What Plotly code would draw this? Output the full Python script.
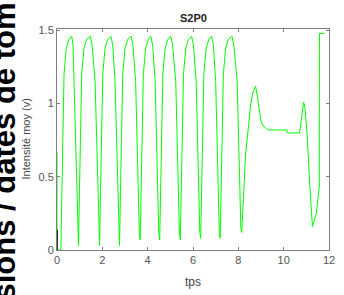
import plotly.graph_objects as go

# Green signal: time (tps) and mean intensity (v)
tps = [0.0, 0.0, 0.17,
       0.21, 0.25, 0.31, 0.41, 0.53, 0.65, 0.71, 0.75, 0.81, 0.87, 0.91, 0.95,
       0.99, 1.03, 1.09, 1.19, 1.31, 1.47, 1.55, 1.68, 1.74, 1.80, 1.84, 1.88,
       1.92, 1.96, 2.02, 2.12, 2.24, 2.38, 2.46, 2.56, 2.62, 2.68, 2.72, 2.76,
       2.80, 2.84, 2.90, 3.00, 3.12, 3.27, 3.35, 3.47, 3.53, 3.59, 3.63, 3.67,
       3.71, 3.75, 3.81, 3.91, 4.03, 4.14, 4.22, 4.33, 4.39, 4.45, 4.49, 4.53,
       4.57, 4.61, 4.67, 4.77, 4.89, 5.02, 5.10, 5.24, 5.30, 5.36, 5.40, 5.44,
       5.48, 5.52, 5.58, 5.68, 5.80, 5.94, 6.02, 6.14, 6.20, 6.26, 6.30, 6.34,
       6.38, 6.42, 6.48, 6.58, 6.70, 6.82, 6.90, 7.00, 7.06, 7.12, 7.16, 7.20,
       7.24, 7.28, 7.34, 7.44, 7.56, 7.72, 7.80, 7.95, 8.01, 8.07, 8.11, 8.15,
       8.22, 8.32, 8.45, 8.55, 8.65, 8.76, 8.84, 8.92, 9.00, 9.08, 9.20, 9.30,
       10.14, 10.16, 10.70, 10.76, 10.82, 10.88, 10.95, 11.05, 11.15, 11.27,
       11.44, 11.57, 11.58, 11.80]
intensite = [0.67, 0.0, 0.0,
             0.40, 0.85, 1.20, 1.38, 1.44, 1.46, 1.40, 1.15, 0.75, 0.35, 0.12, 0.03,
             0.40, 0.85, 1.20, 1.38, 1.44, 1.46, 1.40, 1.15, 0.75, 0.35, 0.12, 0.03,
             0.40, 0.85, 1.20, 1.38, 1.44, 1.46, 1.40, 1.15, 0.75, 0.35, 0.12, 0.03,
             0.40, 0.85, 1.20, 1.38, 1.44, 1.46, 1.40, 1.15, 0.75, 0.35, 0.12, 0.07,
             0.40, 0.85, 1.20, 1.38, 1.44, 1.46, 1.40, 1.15, 0.75, 0.35, 0.12, 0.07,
             0.40, 0.85, 1.20, 1.38, 1.44, 1.46, 1.40, 1.15, 0.75, 0.35, 0.12, 0.07,
             0.40, 0.85, 1.20, 1.38, 1.44, 1.46, 1.40, 1.15, 0.75, 0.35, 0.12, 0.08,
             0.40, 0.85, 1.20, 1.38, 1.44, 1.46, 1.40, 1.15, 0.75, 0.35, 0.12, 0.08,
             0.40, 0.85, 1.20, 1.38, 1.44, 1.46, 1.40, 1.15, 0.75, 0.35, 0.15, 0.12,
             0.35, 0.65, 0.85, 1.00, 1.08, 1.12, 1.05, 0.95, 0.88, 0.85, 0.83, 0.82,
             0.82, 0.80, 0.80, 0.88, 0.97, 1.01, 0.96, 0.75, 0.45, 0.16,
             0.25, 0.43, 1.48, 1.48]

# Short black series at the origin
tps_noir = [0.0, 0.0]
intensite_noir = [0.0, 0.14]

x_ticks = [0, 2, 4, 6, 8, 10, 12]
y_ticks = [0, 0.5, 1, 1.5]
y_tick_labels = ["0", "0.5", "1", "1.5"]

fig = go.Figure()
fig.add_trace(go.Scatter(x=tps, y=intensite, mode="lines",
                         line=dict(color="#00ff00", width=1)))
fig.add_trace(go.Scatter(x=tps_noir, y=intensite_noir, mode="lines",
                         line=dict(color="#000000", width=1.5)))

axis_common = dict(showgrid=False, zeroline=False, showline=True,
                   linecolor="#7f7f7f", linewidth=1, mirror="ticks",
                   ticks="inside", ticklen=3, tickcolor="#7f7f7f",
                   tickfont=dict(family="Liberation Sans, Arial", size=11, color="#555555"))

fig.update_layout(
    width=344, height=295,
    margin=dict(l=57, r=9, t=29, b=45),
    paper_bgcolor="white", plot_bgcolor="white",
    showlegend=False,
    xaxis=dict(range=[0, 12], tickvals=x_ticks, **axis_common),
    yaxis=dict(range=[0, 1.51], tickvals=y_ticks, ticktext=y_tick_labels, **axis_common),
    annotations=[
        dict(text="<b>S2P0</b>", xref="paper", yref="paper", x=0.5, y=1,
             yshift=11, xanchor="center", yanchor="middle", showarrow=False,
             font=dict(family="Liberation Sans, Arial", size=11, color="#222222")),
        dict(text="tps", xref="paper", yref="paper", x=0.5, y=0,
             yshift=-32, xanchor="center", yanchor="middle", showarrow=False,
             font=dict(family="Liberation Sans, Arial", size=12, color="#444444")),
        dict(text="Intensité moy (v)", xref="paper", yref="paper", x=0, y=0.5,
             xshift=-32, xanchor="center", yanchor="middle", textangle=-90, showarrow=False,
             font=dict(family="Liberation Sans, Arial", size=11, color="#444444")),
        dict(text="<b>sions / dates de tom</b>", xref="paper", yref="paper", x=0, y=0.5,
             xshift=-53, yshift=-12, xanchor="center", yanchor="middle", textangle=-90,
             showarrow=False,
             font=dict(family="Liberation Sans, Arial", size=31, color="#000000")),
    ],
)

fig.write_html("out.html", config={"displayModeBar": False},
               post_script="document.body.style.margin='0';document.body.style.overflow='hidden';")
